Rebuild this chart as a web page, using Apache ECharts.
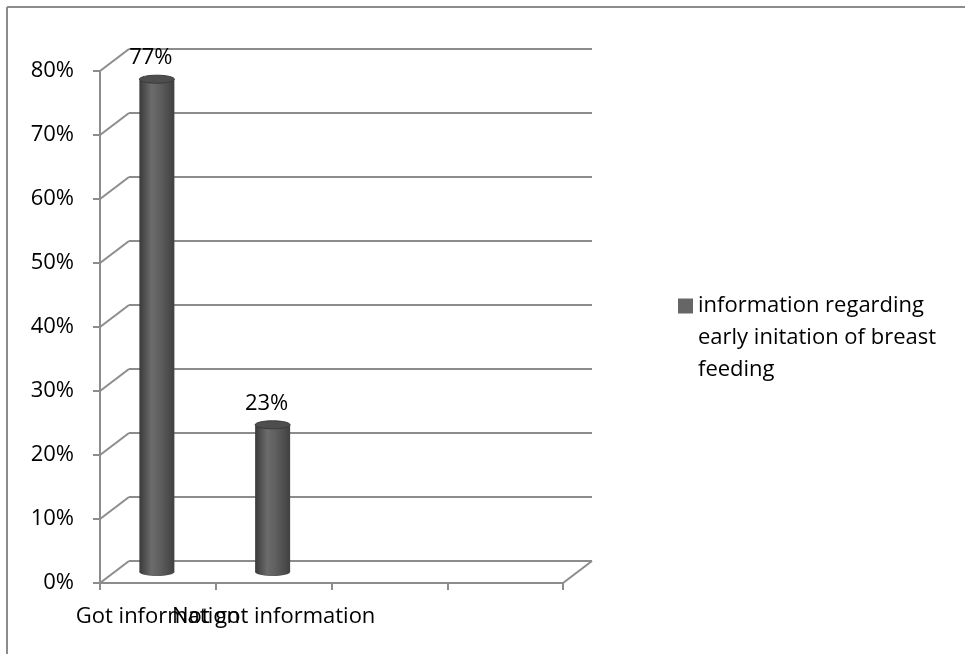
<!DOCTYPE html>
<html>
<head>
<meta charset="utf-8">
<script src="https://cdn.jsdelivr.net/npm/echarts@6/dist/echarts.min.js"></script>
<style>
  html, body { margin: 0; padding: 0; background: #fff; }
  #chart { width: 965px; height: 654px; }
</style>
</head>
<body>
<div id="chart"></div>
<script>
// Categories along the floor of the chart (two empty slots at the end)
const categories = ['Got information', 'Not got information', '', ''];
// Percentages for each category
const values = [77, 23];
// Value-axis ticks (percent)
const yTicks = [0, 10, 20, 30, 40, 50, 60, 70, 80];
// Series name and its wrapped legend text
const seriesName = 'information regarding early initation of breast feeding';
const legendLines = ['information regarding', 'early initation of breast', 'feeding'];

const FONT = '"Open Sans", sans-serif';
const FONT_SIZE = 22;
const GRID_COLOR = '#8c8c8c';
// Offset of the back wall relative to the front plane (pseudo-3D depth)
const DEPTH_X = 29;
const DEPTH_Y = -22;
// Cylinders stand halfway into the depth
const BAR_SHIFT_X = -1;
const BAR_SHIFT_Y = -11;
const BAR_WIDTH = 35;
const CAP_RY = 4;

const chart = echarts.init(document.getElementById('chart'), null, { renderer: 'canvas' });

// Back wall gridlines and the diagonals joining them to the front axis
function renderWall(params, api) {
  const v = api.value(1);
  const p = api.coord([0, v]);
  const half = api.size([1, 0])[0] / 2;
  const x0 = p[0] - half;
  const x1 = api.coord([categories.length - 1, v])[0] + half;
  const y = p[1];
  const style = { stroke: GRID_COLOR, lineWidth: 2 };
  const children = [
    { type: 'line', shape: { x1: x0, y1: y, x2: x0 + DEPTH_X, y2: y + DEPTH_Y }, style },
    { type: 'line', shape: { x1: x0 + DEPTH_X, y1: y + DEPTH_Y, x2: x1 + DEPTH_X, y2: y + DEPTH_Y }, style }
  ];
  if (v === 0) {
    children.push({ type: 'line', shape: { x1: x1, y1: y, x2: x1 + DEPTH_X, y2: y + DEPTH_Y }, style });
  }
  return { type: 'group', children };
}

// Shaded cylinder with its value label
function renderCylinder(params, api) {
  const idx = api.value(0);
  const v = api.value(1);
  const top = api.coord([idx, v]);
  const base = api.coord([idx, 0]);
  const cx = top[0] + BAR_SHIFT_X;
  const yTop = top[1] + BAR_SHIFT_Y;
  const yBot = base[1] + BAR_SHIFT_Y;
  const x = cx - BAR_WIDTH / 2;
  const body = new echarts.graphic.LinearGradient(0, 0, 1, 0, [
    { offset: 0, color: '#3a3a3a' },
    { offset: 0.35, color: '#6c6c6c' },
    { offset: 0.6, color: '#5e5e5e' },
    { offset: 1, color: '#404040' }
  ]);
  return {
    type: 'group',
    children: [
      { type: 'ellipse', shape: { cx: cx, cy: yBot, rx: BAR_WIDTH / 2, ry: CAP_RY }, style: { fill: body } },
      { type: 'rect', shape: { x: x, y: yTop, width: BAR_WIDTH, height: yBot - yTop }, style: { fill: body } },
      { type: 'ellipse', shape: { cx: cx, cy: yTop, rx: BAR_WIDTH / 2, ry: CAP_RY },
        style: { fill: '#4e4e4e', stroke: '#3a3a3a', lineWidth: 1 } },
      { type: 'text', x: cx - 6, y: yTop - 21,
        style: { text: v + '%', fill: '#000', font: FONT_SIZE + 'px ' + FONT, align: 'center', verticalAlign: 'middle' } }
    ]
  };
}

chart.setOption({
  animation: false,
  backgroundColor: '#fff',
  textStyle: { fontFamily: FONT },
  graphic: [
    { type: 'line', shape: { x1: 7, y1: 7, x2: 965, y2: 7 }, style: { stroke: '#8c8c8c', lineWidth: 2 } },
    { type: 'line', shape: { x1: 7, y1: 7, x2: 7, y2: 654 }, style: { stroke: '#8c8c8c', lineWidth: 2 } }
  ],
  grid: { left: 100, top: 71, width: 463, height: 512 },
  legend: {
    data: [{ name: seriesName, itemStyle: { color: '#666666' } }],
    orient: 'vertical',
    left: 673,
    top: 221,
    icon: 'rect',
    itemWidth: 15,
    itemHeight: 15,
    itemGap: 0,
    selectedMode: false,
    // two leading blank lines keep the marker beside the first text line
    formatter: () => '\n\n' + legendLines.join('\n'),
    textStyle: { fontFamily: FONT, fontSize: FONT_SIZE, color: '#000', lineHeight: 32 }
  },
  xAxis: {
    type: 'category',
    data: categories,
    boundaryGap: true,
    axisLine: { lineStyle: { color: GRID_COLOR, width: 2 } },
    axisTick: { show: true, length: 7, lineStyle: { color: GRID_COLOR, width: 2 } },
    axisLabel: { interval: 0, color: '#000', fontSize: FONT_SIZE, fontFamily: FONT, margin: 23 },
    splitLine: { show: false }
  },
  yAxis: {
    type: 'value',
    min: 0,
    max: 80,
    interval: 10,
    axisLine: { show: true, lineStyle: { color: GRID_COLOR, width: 2 } },
    axisTick: { show: true, length: 7, lineStyle: { color: GRID_COLOR, width: 2 } },
    axisLabel: { color: '#000', fontSize: FONT_SIZE, fontFamily: FONT, margin: 26, formatter: '{value}%' },
    splitLine: { show: false }
  },
  series: [
    {
      name: 'wall',
      type: 'custom',
      silent: true,
      z: 1,
      renderItem: renderWall,
      data: yTicks.map(v => [0, v])
    },
    {
      name: seriesName,
      type: 'custom',
      z: 3,
      itemStyle: { color: '#666666' },
      renderItem: renderCylinder,
      data: values.map((v, i) => [i, v])
    }
  ]
});
</script>
</body>
</html>
